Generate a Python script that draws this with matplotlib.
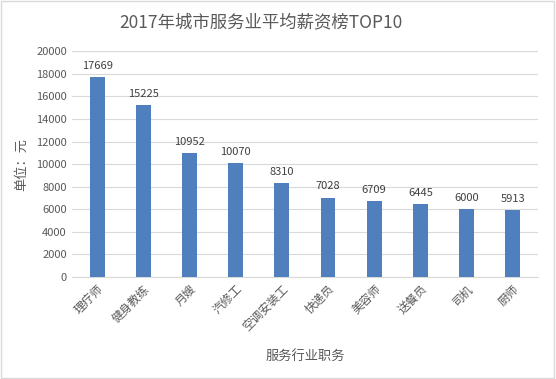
import matplotlib.pyplot as plt
import numpy as np

plt.rcParams['font.family'] = ['Noto Sans CJK SC', 'DejaVu Sans']

# data
jobs = ['理疗师', '健身教练', '月嫂', '汽修工', '空调安装工', '快递员', '美容师', '送餐员', '司机', '厨师']
salary = [17669, 15225, 10952, 10070, 8310, 7028, 6709, 6445, 6000, 5913]

fig = plt.figure(figsize=(5.56, 3.79), dpi=100)
ax = fig.add_axes([0.129, 0.269, 0.839, 0.596])

x = np.arange(len(jobs))
ax.bar(x, salary, width=0.32, color='#4F7FBD', zorder=3)
for xi, v in zip(x, salary):
    ax.text(xi, v + 550, str(v), ha='center', va='bottom', fontsize=8, color='#404040')

ax.set_ylim(0, 20000)
ax.set_yticks(np.arange(0, 20001, 2000))
ax.set_xlim(-0.55, len(jobs) - 0.45)
ax.yaxis.grid(True, color='#d9d9d9', linewidth=0.8, zorder=0)
for s in ['top', 'right', 'left']:
    ax.spines[s].set_visible(False)
ax.spines['bottom'].set_color('#d9d9d9')
ax.tick_params(axis='both', length=0, labelsize=8, labelcolor='#595959')
ax.tick_params(axis='x', labelsize=8.5, pad=4)
ax.set_xticks(x)
ax.set_xticklabels(jobs, rotation=45, ha='right', rotation_mode='anchor')

ax.set_ylabel('单位：元', fontsize=9.5, color='#595959', labelpad=6)
ax.set_xlabel('服务行业职务', fontsize=9.5, color='#595959', labelpad=12)
fig.suptitle('2017年城市服务业平均薪资榜TOP10', x=0.47, y=0.965, fontsize=12.5, color='#595959')

fig.patches.append(plt.Rectangle((0.002, 0.002), 0.995, 0.995, transform=fig.transFigure,
                                 fill=False, edgecolor='#d9d9d9', linewidth=1))

fig.savefig('out.png', dpi=100)
